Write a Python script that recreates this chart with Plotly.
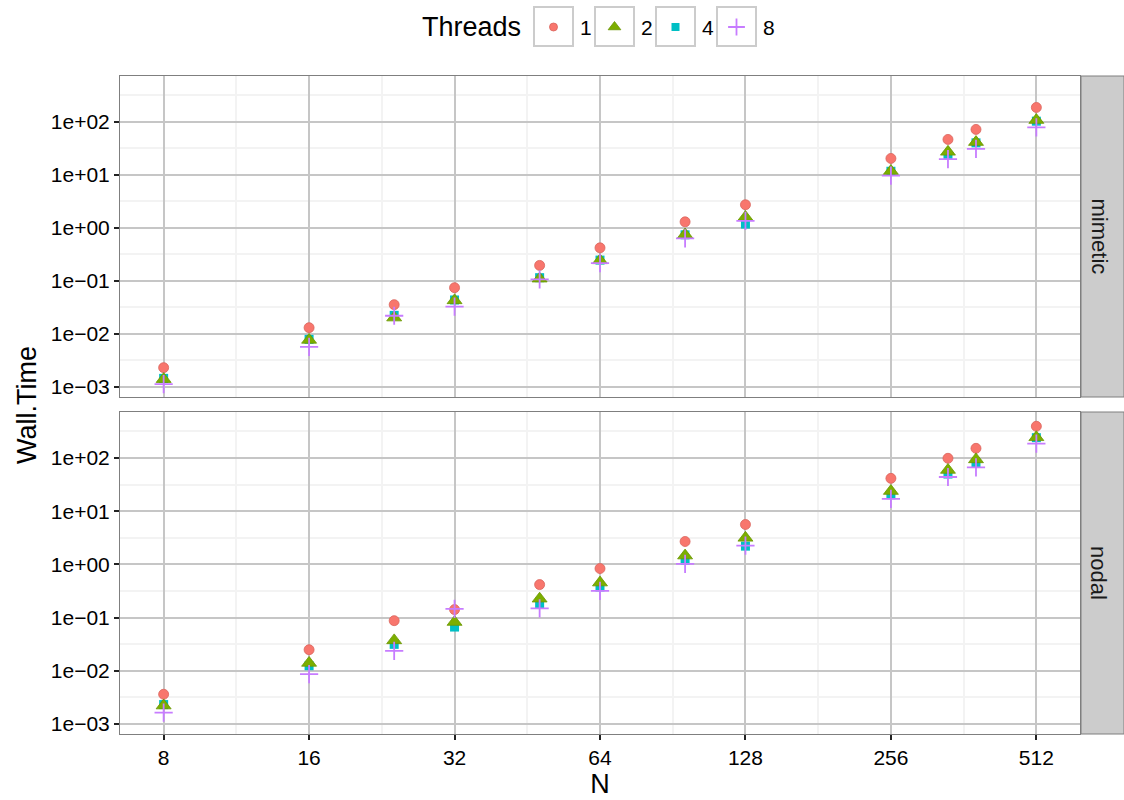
import math
import plotly.graph_objects as go

# Problem sizes and measured wall times (seconds) per thread count
N = [8, 16, 24, 32, 48, 64, 96, 128, 256, 336, 384, 512]
threads = ["1", "2", "4", "8"]

mimetic_t1 = [0.00231, 0.0131, 0.0356, 0.0744, 0.196, 0.42, 1.30, 2.73, 20.4, 46.6, 72, 187]
mimetic_t2 = [0.0014, 0.0077, 0.0203, 0.0429, 0.110, 0.244, 0.75, 1.60, 11.8, 27.2, 41.5, 108]
mimetic_t4 = [0.00145, 0.0079, 0.0224, 0.0437, 0.115, 0.247, 0.74, 1.18, 11.7, 23.3, 40.2, 103]
mimetic_t8 = [0.00113, 0.0057, 0.022, 0.0326, 0.107, 0.217, 0.634, 1.36, 9.7, 19.8, 31, 79]

nodal_t1 = [0.00361, 0.0248, 0.0873, 0.141, 0.416, 0.834, 2.69, 5.62, 41.4, 98.7, 152, 395]
nodal_t2 = [0.00221, 0.0140, 0.0372, 0.0823, 0.226, 0.454, 1.46, 3.15, 23.9, 59.5, 94, 245]
nodal_t4 = [0.00231, 0.0124, 0.0313, 0.0662, 0.182, 0.376, 1.2, 2.2, 20.4, 49.9, 79.4, 241]
nodal_t8 = [0.00163, 0.0086, 0.0237, 0.145, 0.149, 0.316, 1.02, 2.26, 17.1, 43.9, 66.8, 186]

facets = ["mimetic", "nodal"]
x_ticks = [8, 16, 32, 64, 128, 256, 512]
y_ticks = [1e-3, 1e-2, 1e-1, 1e0, 1e1, 1e2]
y_ticktext = ["1e\u221203", "1e\u221202", "1e\u221201", "1e+00", "1e+01", "1e+02"]

FONT = "Liberation Sans, Arial, sans-serif"

styles = {
    "1": dict(symbol="circle", color="#F8766D", size=10, line=dict(color="#D9655D", width=0.8)),
    "2": dict(symbol="triangle-up", color="#7CAE00", size=13, line=dict(color="#6A9500", width=0.8)),
    "4": dict(symbol="square", color="#00BFC4", size=9, line=dict(width=0)),
    "8": dict(symbol="cross-thin", color="#C77CFF", size=13, line=dict(color="#C77CFF", width=1.8)),
}

series = {
    "mimetic": dict(zip(threads, [mimetic_t1, mimetic_t2, mimetic_t4, mimetic_t8])),
    "nodal": dict(zip(threads, [nodal_t1, nodal_t2, nodal_t4, nodal_t8])),
}

# stacking order of the point layers
draw_order = ["1", "4", "2", "8"]

fig = go.Figure()
axis_pairs = {"mimetic": ("x", "y"), "nodal": ("x2", "y2")}
for facet in facets:
    xa, ya = axis_pairs[facet]
    for th in draw_order:
        st = styles[th]
        fig.add_trace(go.Scatter(
            x=N, y=series[facet][th], mode="markers", name=th, showlegend=False,
            xaxis=xa, yaxis=ya,
            marker=dict(symbol=st["symbol"], color=st["color"], size=st["size"], line=st["line"]),
        ))

# key glyphs for the "Threads" guide, one per thread count on a helper axis
key_sizes = {"1": 8, "2": 11, "4": 8, "8": 12}
for i, th in enumerate(threads):
    st = styles[th]
    fig.add_trace(go.Scatter(
        x=[i], y=[27], mode="markers", showlegend=False, hoverinfo="skip",
        xaxis="x3", yaxis="y3",
        marker=dict(symbol=st["symbol"], color=st["color"], size=key_sizes[th], line=st["line"]),
    ))

# geometry (pixels) of the plotting region
W, H = 1124, 800
L, R, B = 120, 44, 66
plot_h = H - B          # top margin is zero, paper spans 0..734 px
def py(px):             # pixel row -> paper fraction
    return (plot_h - px) / plot_h

top_dom = [py(397), py(76)]
bot_dom = [py(734), py(412)]

x_minor = [(a * b) ** 0.5 for a, b in zip(x_ticks, x_ticks[1:])]
y_minor = [(a * b) ** 0.5 for a, b in zip(y_ticks, y_ticks[1:])] + [10 ** 2.5]

x_range = [math.log10(2 ** 2.7), math.log10(2 ** 9.3)]
y_range = [-3.19, 2.865]

grid_major = "#C6C6C6"
grid_minor = "#F3F3F3"
border = "#7F7F7F"

def xaxis_cfg(show_labels):
    return dict(
        type="log", range=x_range, domain=[0, 1],
        tickmode="array", tickvals=x_ticks, ticktext=[str(v) for v in x_ticks],
        showticklabels=show_labels, ticks="outside" if show_labels else "",
        ticklen=5, tickwidth=1.5, tickcolor="#222222",
        tickfont=dict(family=FONT, size=21, color="#000000"),
        showgrid=True, gridcolor=grid_major, gridwidth=1.8,
        minor=dict(tickmode="array", tickvals=x_minor, showgrid=True,
                   gridcolor=grid_minor, gridwidth=1.8, ticks=""),
        showline=True, mirror=True, linecolor=border, linewidth=1,
        zeroline=False,
    )

def yaxis_cfg(dom):
    return dict(
        type="log", range=y_range, domain=dom,
        tickmode="array", tickvals=y_ticks, ticktext=y_ticktext,
        ticks="outside", ticklen=5, tickwidth=1.5, tickcolor="#222222",
        tickfont=dict(family=FONT, size=21, color="#000000"),
        showgrid=True, gridcolor=grid_major, gridwidth=1.8,
        minor=dict(tickmode="array", tickvals=y_minor, showgrid=True,
                   gridcolor=grid_minor, gridwidth=1.8, ticks=""),
        showline=True, mirror=True, linecolor=border, linewidth=1,
        zeroline=False,
    )

xa1 = xaxis_cfg(False)
xa1["anchor"] = "y"
xa2 = xaxis_cfg(True)
xa2.update(anchor="y2", matches="x",
           title=dict(text="N", font=dict(family=FONT, size=27, color="#000000"), standoff=4))
ya1 = yaxis_cfg(top_dom)
ya1["anchor"] = "x"
ya2 = yaxis_cfg(bot_dom)
ya2["anchor"] = "x2"

# helper axes for the guide: one unit = 61 px horizontally, pixel rows vertically
unit = 61.0
first_key_px = 553.5
x3_range = [-(first_key_px - L) / unit, -(first_key_px - L) / unit + (W - L - R) / unit]

fig.update_layout(
    width=W, height=H,
    margin=dict(l=L, r=R, t=0, b=B),
    paper_bgcolor="white", plot_bgcolor="white",
    font=dict(family=FONT, color="#000000"),
    xaxis=xa1, yaxis=ya1, xaxis2=xa2, yaxis2=ya2,
    xaxis3=dict(domain=[0, 1], range=x3_range, visible=False, anchor="y3", fixedrange=True),
    yaxis3=dict(domain=[py(60), 1], range=[60, 0], visible=False, anchor="x3", fixedrange=True),
    showlegend=False,
)

shapes = []
# key boxes
for i, th in enumerate(threads):
    shapes.append(dict(type="rect", xref="x3", yref="y3",
                       x0=i - 19.5 / unit, x1=i + 19.5 / unit, y0=7, y1=46,
                       line=dict(color="#CCCCCC", width=2), fillcolor="rgba(0,0,0,0)", layer="below"))
# facet strips on the right
strip_x0 = (1081 - L) / (W - L - R)
strip_x1 = (W - L) / (W - L - R)
for dom in (top_dom, bot_dom):
    shapes.append(dict(type="rect", xref="paper", yref="paper",
                       x0=strip_x0, x1=strip_x1, y0=dom[0], y1=dom[1],
                       fillcolor="#CCCCCC", line=dict(color=border, width=1), layer="below"))

annotations = []
annotations.append(dict(text="Threads", xref="x3", yref="y3", x=-30.5 / unit, y=27,
                        xanchor="right", yanchor="middle", showarrow=False,
                        font=dict(family=FONT, size=27, color="#000000")))
for i, th in enumerate(threads):
    annotations.append(dict(text=th, xref="x3", yref="y3", x=i + 24 / unit, y=27,
                            xanchor="left", yanchor="middle", showarrow=False,
                            font=dict(family=FONT, size=21, color="#000000")))
strip_cx = (1099 - L) / (W - L - R)
for facet, dom in zip(facets, (top_dom, bot_dom)):
    annotations.append(dict(text=facet, xref="paper", yref="paper",
                            x=strip_cx, y=(dom[0] + dom[1]) / 2, textangle=90,
                            xanchor="center", yanchor="middle", showarrow=False,
                            font=dict(family=FONT, size=22, color="#1A1A1A")))
annotations.append(dict(text="Wall.Time", xref="paper", yref="paper",
                        x=(27 - L) / (W - L - R), y=(py(76) + py(734)) / 2, textangle=-90,
                        xanchor="center", yanchor="middle", showarrow=False,
                        font=dict(family=FONT, size=27, color="#000000")))

fig.update_layout(shapes=shapes, annotations=annotations)
fig.write_html("out.html")
